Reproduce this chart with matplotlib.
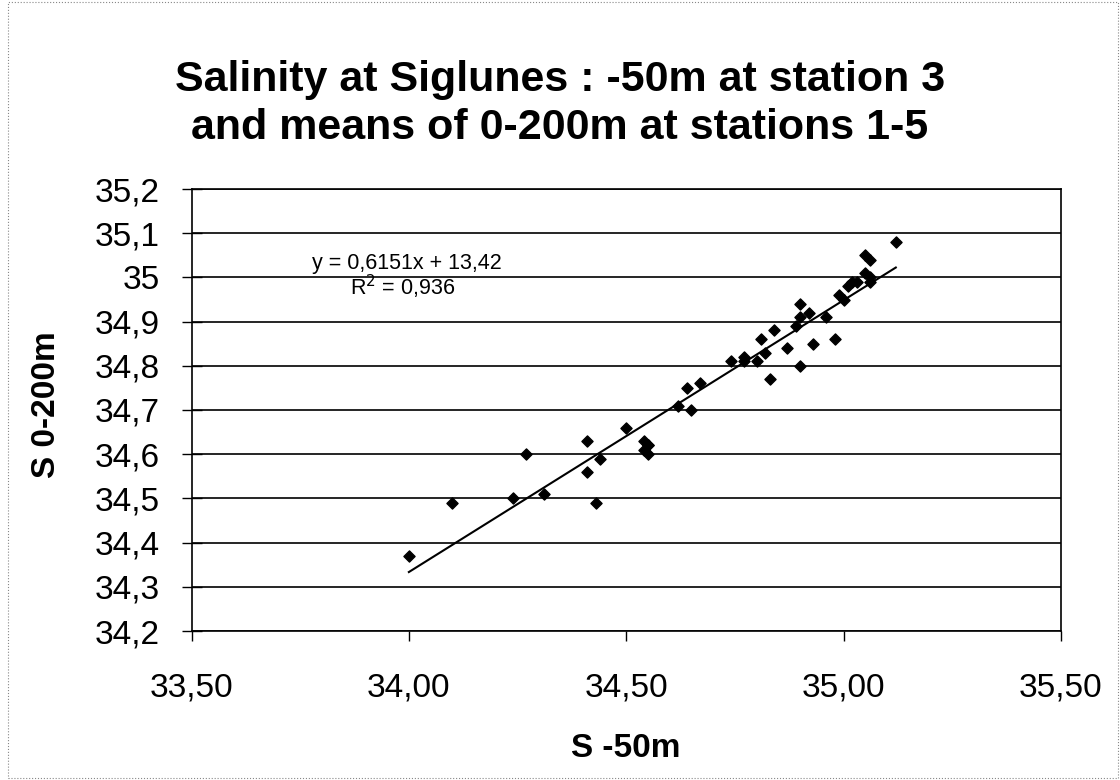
import matplotlib.pyplot as plt
import numpy as np

plt.rcParams['font.family'] = ['Liberation Sans', 'DejaVu Sans']

# S at -50m (station 3) vs mean S 0-200m (stations 1-5)
s50 = [34.00, 34.10, 34.24, 34.27, 34.31, 34.41, 34.41, 34.43, 34.44, 34.50,
       34.54, 34.55, 34.54, 34.55, 34.55, 34.62, 34.65, 34.64, 34.67, 34.74,
       34.77, 34.77, 34.80, 34.81, 34.82, 34.84, 34.83, 34.87, 34.90, 34.90,
       34.90, 34.89, 34.92, 34.93, 34.96, 34.98, 34.99, 35.00, 35.01, 35.02,
       35.03, 35.05, 35.06, 35.05, 35.06, 35.06, 35.12]
s0_200 = [34.37, 34.49, 34.50, 34.60, 34.51, 34.63, 34.56, 34.49, 34.59, 34.66,
          34.63, 34.62, 34.61, 34.60, 34.62, 34.71, 34.70, 34.75, 34.76, 34.81,
          34.82, 34.81, 34.81, 34.86, 34.83, 34.88, 34.77, 34.84, 34.94, 34.80,
          34.91, 34.89, 34.92, 34.85, 34.91, 34.86, 34.96, 34.95, 34.98, 34.99,
          34.99, 35.05, 35.04, 35.01, 34.99, 35.00, 35.08]

slope = 0.6151
intercept = 13.42
r2 = 0.936

W, H = 1120, 780
fig = plt.figure(figsize=(W / 100, H / 100), dpi=100)
ax = fig.add_axes([191.5 / W, 1 - 631 / H, (1061 - 191.5) / W, (631 - 189) / H])

ax.scatter(s50, s0_200, marker='D', s=32, color='black', zorder=3)

xl = np.array([min(s50), max(s50)])
ax.plot(xl, slope * xl + intercept, color='black', lw=1.5, zorder=2)

ax.set_xlim(33.5, 35.5)
ax.set_ylim(34.2, 35.2)

yt = np.round(np.arange(34.2, 35.21, 0.1), 1)
ax.set_yticks(yt)
ax.set_yticklabels([('%g' % v).replace('.', ',') for v in yt], fontsize=24)
xt = [33.5, 34.0, 34.5, 35.0, 35.5]
ax.set_xticks(xt)
ax.set_xticklabels([('%.2f' % v).replace('.', ',') for v in xt], fontsize=24)
ax.tick_params(axis='x', direction='out', length=7, width=1, colors='black', pad=23)
ax.tick_params(axis='y', direction='inout', length=14, width=1, colors='black', pad=16)

ax.yaxis.grid(True, color='black', lw=1.2)
ax.set_axisbelow(True)
for sp in ax.spines.values():
    sp.set_color('black')
    sp.set_linewidth(1.2)

ax.set_xlabel('S -50m', fontsize=24, fontweight='bold')
ax.xaxis.set_label_coords(626 / W, 1 - 733 / H, transform=fig.transFigure)
ax.set_ylabel('S 0-200m', fontsize=24, fontweight='bold')
ax.yaxis.set_label_coords(62 / W, 1 - 405 / H, transform=fig.transFigure)

ax.text(33.996, 35.02, 'y = 0,6151x + 13,42', fontsize=15.5, ha='center', va='baseline')
ax.text(33.986, 34.96, 'R$^2$ = 0,936', fontsize=15.5, ha='center', va='baseline')

fig.text(0.5, 1 - 91 / H, 'Salinity at Siglunes : -50m at station 3',
         ha='center', va='baseline', fontsize=31, fontweight='bold')
fig.text(0.5, 1 - 139 / H, 'and means of 0-200m at stations 1-5',
         ha='center', va='baseline', fontsize=31, fontweight='bold')

fig.patches.append(plt.Rectangle((8 / W, 0.003), 1 - 10 / W, 0.994, transform=fig.transFigure,
                                 fill=False, edgecolor='#888888', lw=0.8, ls=':'))

fig.savefig('out.png', dpi=100)
